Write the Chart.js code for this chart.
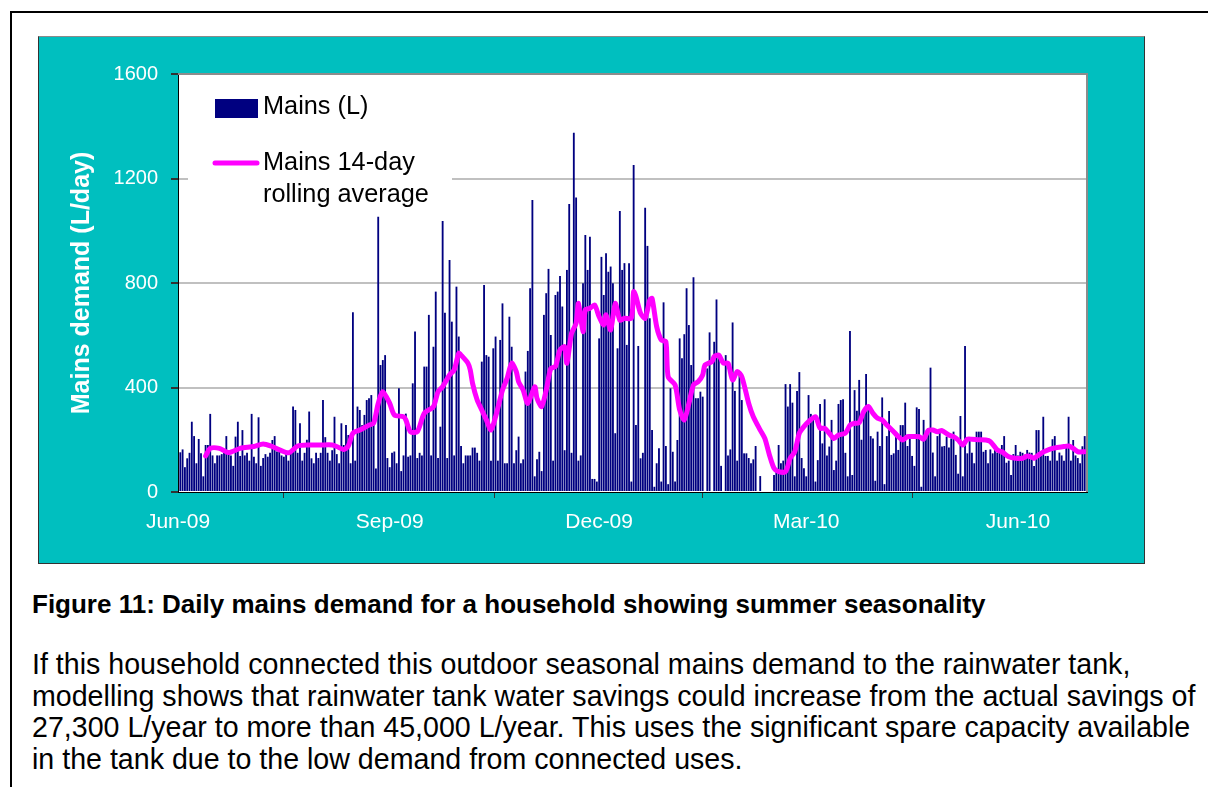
<!DOCTYPE html>
<html>
<head>
<meta charset="utf-8">
<script src="https://cdn.jsdelivr.net/npm/chart.js@4.4.1/dist/chart.umd.min.js"></script>
<style>
html,body{margin:0;padding:0;background:#fff;}
body{width:1208px;height:787px;position:relative;overflow:hidden;font-family:"Liberation Sans",Arial,sans-serif;color:#000;}
#lineTop{position:absolute;left:10px;top:11px;width:1198px;height:2px;background:#000;}
#lineLeft{position:absolute;left:10px;top:11px;width:2px;height:776px;background:#000;}
#box{position:absolute;left:38px;top:36px;width:1105px;height:526px;background:#00BFBF;border:1px solid #333;border-top-color:#8a8a8a;}
#wrap{position:absolute;left:0;top:0;width:1105px;height:526px;}
.cap{position:absolute;left:32px;top:588px;font-weight:bold;font-size:26px;line-height:32px;white-space:nowrap;}
.para{position:absolute;left:32px;top:649px;font-size:28.6px;line-height:31.6px;white-space:nowrap;}
</style>
</head>
<body>
<div id="lineTop"></div>
<div id="lineLeft"></div>
<div id="box"><div id="wrap"><canvas id="mainsChart"></canvas></div></div>
<div class="cap">Figure 11: Daily mains demand for a household showing summer seasonality</div>
<div class="para">If this household connected this outdoor seasonal mains demand to the rainwater tank,<br>modelling shows that rainwater tank water savings could increase from the actual savings of<br>27,300 L/year to more than 45,000 L/year. This uses the significant spare capacity available<br>in the tank due to the low demand from connected uses.</div>

<script>
// day 0 = 1 Jun 2009, first bar is day 1
const tickDays = [0, 92, 183, 273, 365];
const tickLabels = ["Jun-09", "Sep-09", "Dec-09", "Mar-10", "Jun-10"];

// daily mains use (L)
const mainsDaily = [
152,163,95,129,150,269,214,110,203,148,
60,180,180,299,140,110,140,140,145,150,
214,145,140,100,212,269,138,237,140,150,
120,299,135,110,286,100,130,145,135,150,
199,214,155,155,140,135,150,120,160,327,
314,150,263,120,150,200,308,129,110,150,
130,150,352,210,150,120,160,288,145,110,
263,180,256,218,110,688,120,327,314,256,
295,352,359,371,263,90,1054,486,505,524,
130,95,150,155,110,397,80,140,300,135,
140,416,614,130,150,140,480,480,678,140,
556,767,130,250,1037,686,130,888,652,140,
786,595,176,110,140,140,140,170,170,150,
120,499,792,524,518,120,550,595,120,582,
722,110,110,671,556,110,160,212,110,125,
461,540,780,1118,60,125,154,80,678,761,
854,601,120,754,767,827,710,160,850,1102,
150,1375,1127,120,140,799,984,850,977,50,
50,40,588,900,754,914,843,863,799,225,
550,1076,850,876,563,876,40,1252,256,559,
129,150,1088,942,665,237,20,110,167,40,
726,176,30,397,154,40,199,588,512,604,
780,639,486,822,359,359,384,365,0,473,
611,0,575,737,518,100,0,524,140,163,
649,387,120,461,352,148,148,130,110,125,
176,0,61,0,0,0,0,0,65,91,
180,110,120,413,327,413,342,60,387,459,
130,91,60,371,299,282,40,122,337,186,
355,140,174,276,84,120,337,352,355,150,
60,616,65,390,311,429,200,311,452,316,
214,205,43,231,176,362,30,214,310,142,
148,212,161,256,256,342,176,212,138,100,
324,318,20,276,231,244,476,151,60,214,
237,174,176,212,170,205,231,142,70,291,
60,559,148,196,150,110,231,231,231,154,
161,110,163,148,174,151,163,180,214,112,
120,65,145,180,140,154,150,143,161,151,
150,100,237,237,140,288,138,138,120,202,
214,120,151,140,120,175,288,120,199,140,
130,110,175,214
];

// 14-day rolling average
const avgDays = [
12,14,18,22,27,33,37,41,48,52,57,62,67,69,72,74,76,79,83,85,
87,89,92,94,98,99,101,104,107,111,113,115,118,120,122,123,126,127,128,130,
132,134,136,138,141,143,145,147,148,150,152,155,156,158,160,162,164,166,168,169,
171,173,174,176,177,179,181,183,185,186,188,190,192,194,197,198,199,201,203,205,
206,208,210,212,213,216,218,220,222,224,226,228,229,232,233,235,237,239,241,243,
245,248,250,253,255,257,259,261,264,266,268,270,272,274,277,279,281,283,285,287,
290,292,294,296,298,300,302,304,306,308,311,313,315,317,319,322,324,326,328,330,
332,335,337,339,341,343,345,348,351,353,356,358,361,364,367,369,371,372,375,377,
380,382,385,387,389,391,394
];
const avgValues = [
138,167,167,151,167,174,184,174,150,176,180,180,180,174,163,176,225,237,256,263,
339,384,339,295,288,276,231,231,301,327,384,403,448,467,531,524,493,467,416,352,
314,276,237,288,390,435,493,461,422,390,339,403,359,327,390,473,480,544,556,493,
607,646,722,614,697,703,716,671,639,678,620,722,658,665,665,767,748,684,665,735,
741,633,582,575,441,410,314,276,339,410,422,448,486,499,518,524,493,493,429,461,
441,339,288,237,205,142,91,78,78,129,154,225,250,269,288,244,244,225,205,218,
225,256,263,265,308,327,301,282,276,256,231,212,199,212,212,212,202,235,237,231,
235,218,212,199,180,202,202,200,199,193,161,154,135,129,129,138,133,129,148,157,
167,170,174,176,167,154,154
];

Chart.defaults.font.family = '"Liberation Sans", Arial, sans-serif';

const plotFrame = {
  id: "plotFrame",
  beforeDraw(chart) {
    const {ctx, chartArea: a} = chart;
    ctx.save();
    ctx.fillStyle = "#ffffff";
    ctx.fillRect(a.left, a.top, a.width, a.height);
    ctx.restore();
  },
  afterDraw(chart) {
    const {ctx, chartArea: a} = chart;
    ctx.save();
    // grey top and right edges of the plot
    ctx.strokeStyle = "#8c8c8c";
    ctx.lineWidth = 2;
    ctx.beginPath();
    ctx.moveTo(a.left, a.top);
    ctx.lineTo(a.right, a.top);
    ctx.lineTo(a.right, a.bottom);
    ctx.stroke();

    // legend inside the plot
    ctx.fillStyle = "#ffffff";
    ctx.fillRect(149, 43, 264, 132);
    ctx.fillStyle = "#000080";
    ctx.fillRect(176, 62, 43, 19);
    ctx.strokeStyle = "#ff00ff";
    ctx.lineWidth = 5;
    ctx.lineCap = "round";
    ctx.beginPath();
    ctx.moveTo(176, 126);
    ctx.lineTo(218, 126);
    ctx.stroke();
    ctx.fillStyle = "#000";
    ctx.font = '25.3px "Liberation Sans", Arial, sans-serif';
    ctx.textBaseline = "middle";
    ctx.fillText("Mains (L)", 224, 70);
    ctx.fillText("Mains 14-day", 224, 126);
    ctx.fillText("rolling average", 224, 158);
    ctx.restore();
  }
};

new Chart(document.getElementById("mainsChart"), {
  type: "bar",
  data: {
    datasets: [
      {
        type: "line",
        label: "Mains 14-day rolling average",
        data: avgDays.map((d, i) => ({x: d, y: avgValues[i]})),
        borderColor: "#ff00ff",
        borderWidth: 5,
        pointRadius: 0,
        tension: 0.25,
        borderJoinStyle: "round",
        borderCapStyle: "round",
        order: 0
      },
      {
        label: "Mains (L)",
        data: mainsDaily.map((v, i) => ({x: i + 1, y: v})),
        backgroundColor: "#000080",
        barPercentage: 0.8,
        categoryPercentage: 1,
        order: 1
      }
    ]
  },
  options: {
    responsive: true,
    maintainAspectRatio: false,
    animation: false,
    layout: {padding: {left: 0, top: 37, right: 57, bottom: 0}},
    plugins: {legend: {display: false}, tooltip: {enabled: false}},
    scales: {
      x: {
        type: "linear",
        min: 0,
        max: 395,
        offset: false,
        afterBuildTicks: s => { s.ticks = tickDays.map(v => ({value: v})); },
        afterFit: s => { s.height = 71; },
        ticks: {
          color: "#ffffff",
          font: {size: 21},
          padding: 12,
          autoSkip: false,
          maxRotation: 0,
          callback: (v, i) => tickLabels[i]
        },
        grid: {drawOnChartArea: false, color: "rgba(0,0,0,0)", tickColor: "#333", tickLength: 6},
        border: {color: "#000", width: 1}
      },
      y: {
        min: 0,
        max: 1600,
        afterFit: s => { s.width = 139; },
        ticks: {stepSize: 400, color: "#ffffff", font: {size: 20}, padding: 13, callback: v => v},
        grid: {
          color: c => (c.tick && c.tick.value === 0) ? "rgba(0,0,0,0)" : "#c0c0c0",
          lineWidth: 2,
          tickColor: "#333",
          tickLength: 7
        },
        border: {color: "#000", width: 1},
        title: {
          display: true,
          text: "Mains demand (L/day)",
          color: "#ffffff",
          font: {size: 25, weight: "bold"},
          padding: {top: 28, bottom: 0}
        }
      }
    }
  },
  plugins: [plotFrame]
});
</script>
</body>
</html>
